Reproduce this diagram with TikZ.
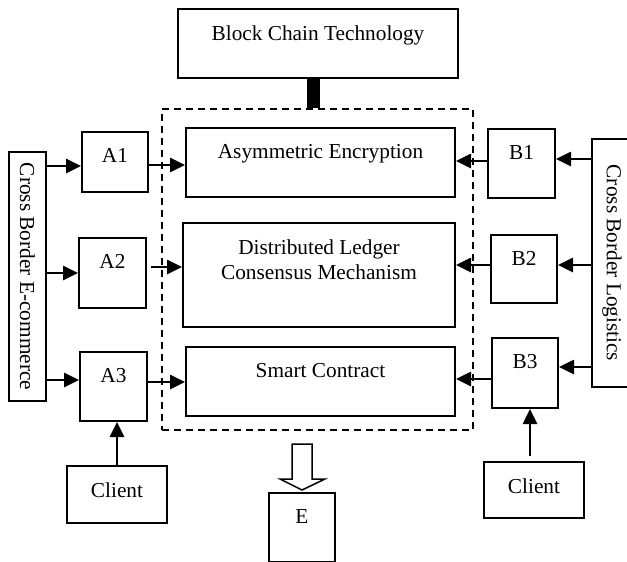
\documentclass[tikz,border=0pt]{standalone}
\usepackage{fontspec}
\setmainfont{Liberation Serif}
\usepackage{tikz}
\usetikzlibrary{positioning,arrows.meta}

\begin{document}
\begin{tikzpicture}[x=1pt,y=-1pt,>={Triangle[length=15pt,width=14pt]},
  font=\fontsize{21.3}{25}\selectfont]
  \tikzstyle{box}=[draw, rectangle, line width=2pt, inner sep=0pt]
  \tikzstyle{txt}=[below=17.5pt, inner sep=0pt, align=center]
  \tikzstyle{link}=[line width=2.6pt, ->]
  \useasboundingbox (0,0) rectangle (627,562);
  \clip (0,0) rectangle (627,562);

  % centre column
  \node[box, minimum width=280pt, minimum height=69pt, label={[txt]north:Block Chain Technology}] (bct) at (318,43.5) {};
  \node[draw, line width=1.5pt, dash pattern=on 7pt off 5pt, minimum width=311pt, minimum height=321pt] (frame) at (317.5,269.5) {};
  \node[box, minimum width=269pt, minimum height=69pt, label={[txt]north:Asymmetric Encryption}] (asym) at (320.5,162.5) {};
  \node[box, minimum width=272pt, minimum height=104pt, label={[txt]north:Distributed Ledger\\Consensus Mechanism}] (dist) at (319,275) {};
  \node[box, minimum width=269pt, minimum height=69pt, label={[txt]north:Smart Contract}] (smart) at (320.5,381.5) {};
  \node[box, minimum width=66pt, minimum height=69pt, label={[txt]north:E}] (E) at (302,527.5) {};

  % left side
  \node[box, rotate=-90, minimum width=249pt, minimum height=37pt] (cbe) at (27.5,276.5) {Cross Border E-commerce};
  \node[box, minimum width=66pt, minimum height=60pt, label={[txt]north:A1}] (A1) at (115,162) {};
  \node[box, minimum width=67pt, minimum height=70pt, label={[txt]north:A2}] (A2) at (112.5,273) {};
  \node[box, minimum width=67pt, minimum height=69pt, label={[txt]north:A3}] (A3) at (113.5,386.5) {};
  \node[box, minimum width=100pt, minimum height=57pt, label={[txt]north:Client}] (clientA) at (117,494.5) {};

  % right side
  \node[box, rotate=-90, minimum width=248pt, minimum height=40pt] (cbl) at (612,263) {Cross Border Logistics};
  \node[box, minimum width=67pt, minimum height=69pt, label={[txt]north:B1}] (B1) at (521.5,163.5) {};
  \node[box, minimum width=66pt, minimum height=68pt, label={[txt]north:B2}] (B2) at (524,269) {};
  \node[box, minimum width=66pt, minimum height=70pt, label={[txt]north:B3}] (B3) at (525,373) {};
  \node[box, minimum width=100pt, minimum height=56pt, label={[txt]north:Client}] (clientB) at (534,490) {};

  % links
  \draw[line width=13pt] ([xshift=-5pt]bct.south) -- ([xshift=-5pt]bct.south |- frame.north);

  \draw[link] ([yshift=-4pt]A1.west -| cbe.north) -- ([yshift=-4pt]A1.west);
  \draw[link] (A2.west -| cbe.north) -- (A2.west);
  \draw[link] ([yshift=6.5pt]A3.west -| cbe.north) -- ([yshift=6.5pt]A3.west);
  \draw[link] ([yshift=-3pt]A1.east) -- ([yshift=-3pt]A1.east -| asym.west);
  \draw[link] ([xshift=4pt,yshift=6pt]A2.east) -- ([yshift=6pt]A2.east -| dist.west);
  \draw[link] ([yshift=4.5pt]A3.east) -- ([yshift=4.5pt]A3.east -| smart.west);
  \draw[link] (clientA.north) -- (clientA.north |- A3.south);

  \draw[link] ([yshift=4.5pt]B1.east -| cbl.south) -- ([yshift=4.5pt]B1.east);
  \draw[link] ([yshift=4pt]B2.east -| cbl.south) -- ([yshift=4pt]B2.east);
  \draw[link] ([yshift=6pt]B3.east -| cbl.south) -- ([yshift=6pt]B3.east);
  \draw[link] ([yshift=2.5pt]B1.west) -- ([yshift=2.5pt]B1.west -| asym.east);
  \draw[link] ([yshift=4pt]B2.west) -- ([yshift=4pt]B2.west -| dist.east);
  \draw[link] ([yshift=-6pt]B3.west) -- ([yshift=-6pt]B3.west -| smart.east);
  \draw[link] ([xshift=-4pt,yshift=5pt]clientB.north) -- ([xshift=-4pt]clientB.north |- B3.south);

  % output arrow
  \draw[line width=1.5pt] (292,444) -- (312,444) -- (312,479) -- (325,479) -- (302,490)
    -- (280,479) -- (292,479) -- cycle;
\end{tikzpicture}
\end{document}
